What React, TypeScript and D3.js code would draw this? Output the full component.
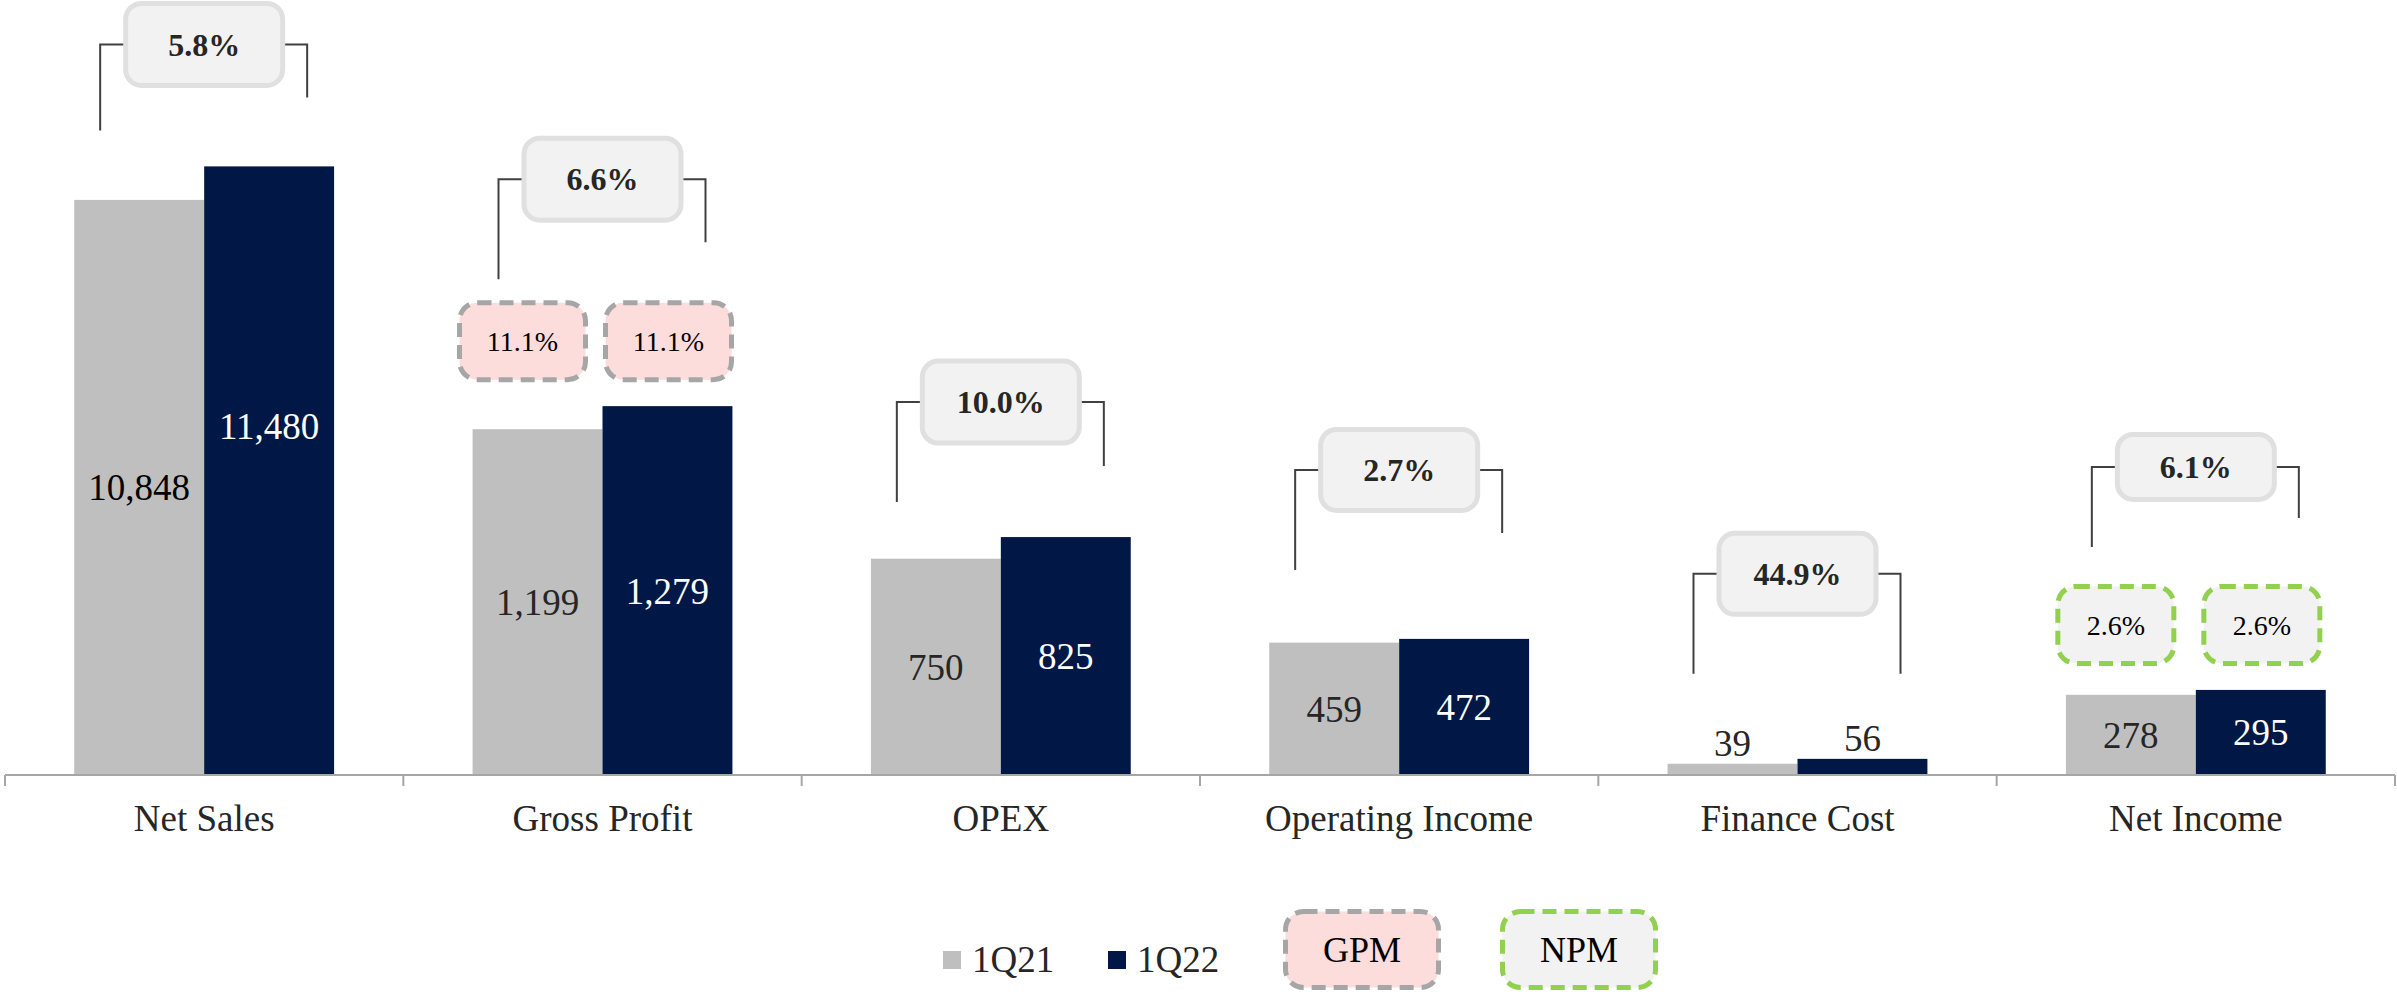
import * as d3 from 'd3'

const categories = ['Net Sales', 'Gross Profit', 'OPEX', 'Operating Income', 'Finance Cost', 'Net Income']
const series = ['1Q21', '1Q22']
const values1Q21 = [10848, 1199, 750, 459, 39, 278]
const values1Q22 = [11480, 1279, 825, 472, 56, 295]
const growth = ['5.8%', '6.6%', '10.0%', '2.7%', '44.9%', '6.1%']
const gpm = ['11.1%', '11.1%']
const npm = ['2.6%', '2.6%']
// Net Sales is drawn against its own (primary) axis, the rest share a secondary one
const primaryCats = ['Net Sales']

const colors = { '1Q21': '#bfbfbf', '1Q22': '#011846' }
const FONT = '"Liberation Serif", "Times New Roman", serif'

// bracket layout, px: gap above taller bar, left / right leg length, box height
const bracketGap = [122, 227, 135, 169, 185, 223]
const legLeft = [86, 100, 100, 100, 100, 80]
const legRight = [53, 63, 64, 63, 100, 51]
const boxH = [87, 87, 87, 86, 86, 70]

const W = 2397
const H = 992
const base = 775
const top = 54

export default function App() {
  const x0 = d3.scaleBand().domain(categories).range([5, 2395]).paddingInner(0).paddingOuter(0)
  const x1 = d3.scaleBand().domain(series).range([0, x0.bandwidth()]).paddingInner(0).paddingOuter(0.533)
  const yPrimary = d3.scaleLinear().domain([0, 13600]).range([base, top])
  const ySecondary = d3.scaleLinear().domain([0, 2500]).range([base, top])
  const yOf = (cat: string) => (primaryCats.includes(cat) ? yPrimary : ySecondary)

  const rows = categories.map((c, i) => ({ cat: c, vals: [values1Q21[i], values1Q22[i]] }))

  return (
    <svg width={W} height={H} style={{ position: 'absolute', left: 0, top: 0, background: '#fff' }} fontFamily={FONT}>
      {/* bars and value labels */}
      {rows.map((r, i) => {
        const y = yOf(r.cat)
        return (
          <g key={r.cat} transform={`translate(${x0(r.cat)},0)`}>
            {series.map((s, j) => {
              const v = r.vals[j]
              const yt = y(v)
              const bx = x1(s) as number
              const small = base - yt < 50
              let ly = (yt + base) / 2
              if (r.cat === 'Net Sales' && s === '1Q22') ly -= 45
              return (
                <g key={s}>
                  <rect x={bx} y={yt} width={x1.bandwidth()} height={base - yt} fill={colors[s]} />
                  <text
                    x={bx + x1.bandwidth() / 2}
                    y={small ? yt - 8 : ly}
                    dy={small ? 0 : '0.35em'}
                    textAnchor="middle"
                    fontSize={37}
                    fill={s === '1Q22' && !small ? '#fff' : i === 0 ? '#000' : '#262626'}
                  >
                    {d3.format(',')(v)}
                  </text>
                </g>
              )
            })}
          </g>
        )
      })}

      {/* axis */}
      <line x1={5} x2={2395} y1={base} y2={base} stroke="#a6a6a6" strokeWidth={2} />
      {[...categories.map((c) => x0(c) as number), 2395].map((tx, i) => (
        <line key={i} x1={tx} x2={tx} y1={base} y2={base + 11} stroke="#a6a6a6" strokeWidth={2} />
      ))}
      {categories.map((c) => (
        <text key={c} x={(x0(c) as number) + x0.bandwidth() / 2} y={831} textAnchor="middle" fontSize={37} fill="#262626">
          {c}
        </text>
      ))}

      {/* growth brackets */}
      {rows.map((r, i) => {
        const y = yOf(r.cat)
        const cx = (x0(r.cat) as number) + x0.bandwidth() / 2
        const armY = y(Math.max(...r.vals)) - bracketGap[i]
        const lx = cx - 104
        const rx = cx + 103
        const bw = 162
        const bh = boxH[i]
        return (
          <g key={r.cat}>
            <path
              d={`M${lx},${armY + legLeft[i]}V${armY}H${cx - bw / 2 + 4}M${cx + bw / 2 - 4},${armY}H${rx}V${armY + legRight[i]}`}
              fill="none"
              stroke="#404040"
              strokeWidth={2}
            />
            <rect x={cx - bw / 2 + 2.5} y={armY - bh / 2 + 2.5} width={bw - 5} height={bh - 5} rx={16} fill="#f2f2f2" stroke="#e0e0e0" strokeWidth={5} />
            <text x={cx} y={armY} dy="0.35em" textAnchor="middle" fontSize={32} fontWeight="bold" fill="#262626">
              {growth[i]}
            </text>
          </g>
        )
      })}

      {/* margin boxes */}
      {[
        { cat: 'Gross Profit', labels: gpm, fill: '#fddcdc', stroke: '#a6a6a6', w: 131 },
        { cat: 'Net Income', labels: npm, fill: '#f2f2f2', stroke: '#92d050', w: 121 },
      ].map((m) => {
        const i = categories.indexOf(m.cat)
        const cx = (x0(m.cat) as number) + x0.bandwidth() / 2
        const bottom = yOf(m.cat)(Math.max(values1Q21[i], values1Q22[i])) - 24
        const bh = 82
        return m.labels.map((lab, j) => {
          const bcx = cx + (j === 0 ? -80 : 66)
          return (
            <g key={m.cat + j}>
              <rect
                x={bcx - m.w / 2 + 2.5}
                y={bottom - bh + 2.5}
                width={m.w - 5}
                height={bh - 5}
                rx={18}
                fill={m.fill}
                stroke={m.stroke}
                strokeWidth={5}
                strokeDasharray="14 8"
              />
              <text x={bcx} y={bottom - bh / 2} dy="0.35em" textAnchor="middle" fontSize={28} fill="#000">
                {lab}
              </text>
            </g>
          )
        })
      })}

      {/* legend */}
      <rect x={943} y={951} width={18} height={18} fill={colors['1Q21']} />
      <text x={972} y={972} fontSize={37} fill="#262626">1Q21</text>
      <rect x={1108} y={951} width={18} height={18} fill={colors['1Q22']} />
      <text x={1137} y={972} fontSize={37} fill="#262626">1Q22</text>
      {[
        { label: 'GPM', x: 1283, fill: '#fddcdc', stroke: '#a6a6a6' },
        { label: 'NPM', x: 1500, fill: '#f2f2f2', stroke: '#92d050' },
      ].map((l) => (
        <g key={l.label}>
          <rect x={l.x + 2.5} y={909 + 2.5} width={158 - 5} height={81 - 5} rx={18} fill={l.fill} stroke={l.stroke} strokeWidth={5} strokeDasharray="14 8" />
          <text x={l.x + 79} y={949.5} dy="0.35em" textAnchor="middle" fontSize={36} fill="#000">
            {l.label}
          </text>
        </g>
      ))}
    </svg>
  )
}
